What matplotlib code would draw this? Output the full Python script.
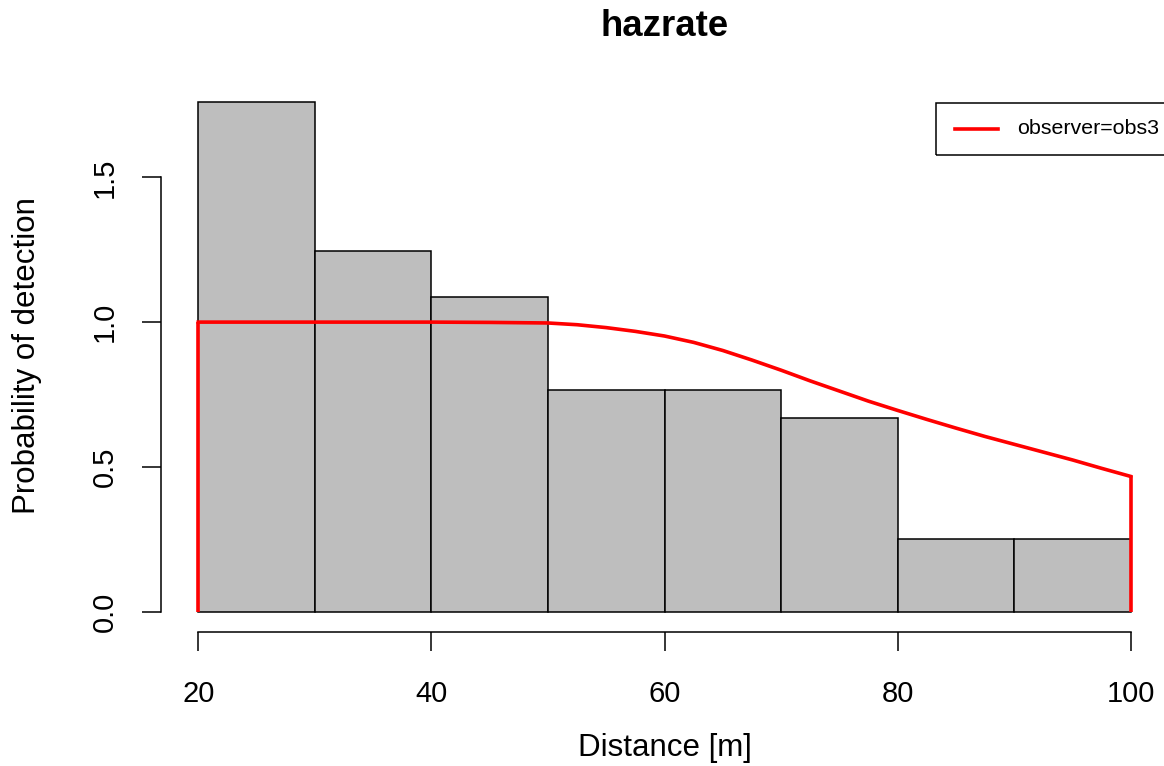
import matplotlib
matplotlib.use('Agg')
import matplotlib.pyplot as plt
from matplotlib.patches import Rectangle
from matplotlib.lines import Line2D

plt.rcParams['font.family'] = ['Liberation Sans', 'DejaVu Sans']

# histogram of scaled detection distances
bin_edges = [20, 30, 40, 50, 60, 70, 80, 90, 100]
bar_heights = [1.759, 1.245, 1.086, 0.766, 0.766, 0.669, 0.252, 0.252]

# fitted hazard-rate detection function
curve_x = [20, 30, 40, 45, 50, 52.5, 55, 57.5, 60, 62.5, 65, 67.5, 70,
           72.5, 75, 77.5, 80, 82.5, 85, 87.5, 90, 92.5, 95, 97.5, 100]
curve_y = [1.0, 1.0, 1.0, 0.999, 0.997, 0.991, 0.981, 0.968, 0.952, 0.930,
           0.902, 0.869, 0.834, 0.797, 0.762, 0.727, 0.695, 0.664, 0.634,
           0.605, 0.578, 0.551, 0.524, 0.495, 0.467]

x_ticks = [20, 40, 60, 80, 100]
y_ticks = [0.0, 0.5, 1.0, 1.5]
legend_label = 'observer=obs3'

W, H = 1164, 766
fig = plt.figure(figsize=(W / 100, H / 100), dpi=100)

# plot region in pixels (R style, runs slightly past the right edge)
left, right, top, bottom = 161, 1168, 82, 632
ax = fig.add_axes([left / W, 1 - bottom / H, (right - left) / W, (bottom - top) / H])
ax.patch.set_visible(False)

widths = [b - a for a, b in zip(bin_edges[:-1], bin_edges[1:])]
ax.bar(bin_edges[:-1], bar_heights, width=widths, align='edge',
       color='#BEBEBE', edgecolor='black', linewidth=1.1)

ax.plot(curve_x, curve_y, color='red', linewidth=2.6, solid_joinstyle='round')
ax.vlines([curve_x[0], curve_x[-1]], 0, [curve_y[0], curve_y[-1]],
          color='red', linewidth=2.6)

# R-ish axis ranges (4% padding)
xr = bin_edges[-1] - bin_edges[0]
ax.set_xlim(bin_edges[0] - 0.04 * xr, bin_edges[-1] + 0.04 * xr)
ymax = max(bar_heights)
ax.set_ylim(-0.04 * ymax, ymax * 1.04)

for s in ['top', 'right']:
    ax.spines[s].set_visible(False)
ax.spines['left'].set_bounds(y_ticks[0], y_ticks[-1])
ax.spines['bottom'].set_bounds(x_ticks[0], x_ticks[-1])
for s in ['left', 'bottom']:
    ax.spines[s].set_linewidth(1.1)

ax.set_xticks(x_ticks)
ax.set_xticklabels([str(v) for v in x_ticks])
ax.set_yticks(y_ticks)
ax.set_yticklabels([f'{v:.1f}' for v in y_ticks])
ax.tick_params(axis='both', direction='out', length=13.7, width=1.1, labelsize=21)
ax.tick_params(axis='x', pad=20.5)
ax.tick_params(axis='y', pad=16.5)
for lab in ax.get_yticklabels():
    lab.set_rotation(90)
    lab.set_va('center')

# title and axis labels
fig.text(664.5 / W, 1 - 36 / H, 'hazrate', ha='center', va='baseline',
         fontsize=26.3, fontweight='bold')
fig.text(664.5 / W, 1 - 756 / H, 'Distance [m]', ha='center', va='baseline', fontsize=22.5)
fig.text(35.5 / W, 1 - 356 / H, 'Probability of detection', rotation=90,
         rotation_mode='anchor', ha='center', va='baseline', fontsize=22.5)

# legend box, top right, cut off by the figure edge like the reference
fig.patches.append(Rectangle((936 / W, 1 - 155 / H), (1175 - 936) / W, (155 - 103) / H,
                             transform=fig.transFigure, fill=False,
                             edgecolor='black', linewidth=1.1))
fig.lines.append(Line2D([955 / W, 998 / W], [1 - 129 / H, 1 - 129 / H],
                        transform=fig.transFigure, color='red', linewidth=2.6))
fig.text(1017 / W, 1 - 129 / H, legend_label, ha='left', va='center', fontsize=15.4)

fig.savefig('out.png', dpi=100)
